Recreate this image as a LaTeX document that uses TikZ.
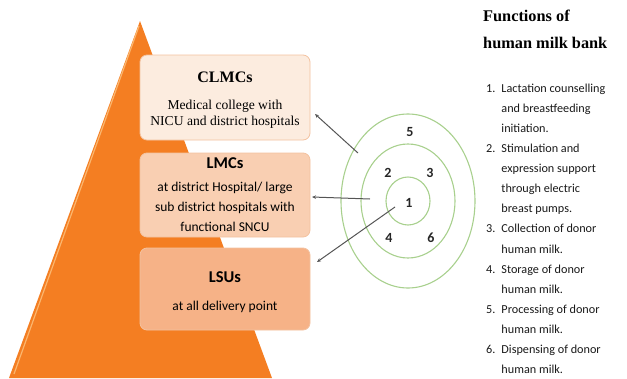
\documentclass[tikz,border=0pt]{standalone}
\usepackage{fontspec}
\setmainfont{Liberation Serif}
\newfontfamily\calfont{Carlito}
\usetikzlibrary{arrows.meta}
\definecolor{tri}{HTML}{F47E22}
\definecolor{trilight}{HTML}{FBB66E}
\definecolor{boxA}{HTML}{FCECDF}
\definecolor{boxB}{HTML}{F9CFB2}
\definecolor{boxC}{HTML}{F6B287}
\definecolor{boxline}{HTML}{F3C2A0}
\definecolor{ring}{HTML}{A8D08D}
\definecolor{arr}{HTML}{555555}
\tikzset{
  tierbox/.style={draw=boxline, line width=0.8pt, rounded corners=7pt},
  ringline/.style={draw=ring, line width=1.1pt},
  num/.style={font=\calfont\bfseries\fontsize{14}{16}\selectfont, text=black!85},
  link/.style={draw=arr, line width=1pt, -{Stealth[length=4pt,width=3.5pt]}},
  sertitle/.style={font=\bfseries\fontsize{16}{18}\selectfont},
  caltitle/.style={font=\calfont\bfseries\fontsize{16.5}{18}\selectfont},
  headtitle/.style={anchor=base west, inner sep=0pt, font=\bfseries\fontsize{16.3}{20}\selectfont},
}
\begin{document}
\begin{tikzpicture}[x=1pt,y=-1pt]
\useasboundingbox (0,0) rectangle (627,378);
% pyramid
\fill[tri] (140,21) -- (272,378) -- (9,378) -- cycle;
\draw[trilight, line width=1.2pt] (139,26) -- (14,374);
% tier boxes
\node[tierbox, fill=boxA, minimum width=170pt, minimum height=85pt] (clmc) at (225,97.5) {};
\node[tierbox, fill=boxB, minimum width=170pt, minimum height=84pt] (lmc) at (225,195) {};
\node[tierbox, fill=boxC, minimum width=170pt, minimum height=82pt] (lsu) at (225,289) {};
% box texts
\node[sertitle] (clmct) at (225,77) {CLMCs};
\node[font=\fontsize{13.6}{16.5}\selectfont, align=center] (clmcb) at (225,114) {Medical college with\\NICU and district hospitals};
\node[caltitle] (lmct) at (225,163) {LMCs};
\node[font=\calfont\fontsize{13.5}{20}\selectfont, align=center] (lmcb) at (225,207) {at district Hospital/ large\\sub district hospitals with\\functional SNCU};
\node[caltitle] (lsut) at (225,277) {LSUs};
\node[font=\calfont\fontsize{13.5}{16}\selectfont] (lsub) at (225,307) {at all delivery point};
% target rings
\coordinate (c) at (408,201);
\draw[ringline] (c) ellipse [x radius=67pt, y radius=87pt];
\draw[ringline] (c) ellipse [x radius=47pt, y radius=57pt];
\draw[ringline] (c) ellipse [x radius=22pt, y radius=24pt];
\node[num] (n5) at (410,132) {5};
\node[num] (n2) at (388,173) {2};
\node[num] (n3) at (430,173) {3};
\node[num] (n1) at (409,203) {1};
\node[num] (n4) at (389,238) {4};
\node[num] (n6) at (431,238) {6};
% connectors
\coordinate (s1) at (358,153);
\coordinate (s2) at (370,199);
\coordinate (s3) at (395,207);
\coordinate (e1) at (315,114);
\coordinate (e2) at (312,197);
\coordinate (e3) at (317,262);
\draw[link] (s1) -- (e1);
\draw[link] (s2) -- (e2);
\draw[link] (s3) -- (e3);
% functions list
\node[headtitle] (ft1) at (483,21) {Functions of};
\node[headtitle] (ft2) at (483,48) {human milk bank};
\node[anchor=north west, inner sep=0pt, font=\calfont\fontsize{12.2}{20.1}\selectfont, text=black!90] (flist) at (486,78) {%
\begin{tabular}{@{}l@{\hspace{6pt}}l@{}}
1. & Lactation counselling\\
   & and breastfeeding\\
   & initiation.\\
2. & Stimulation and\\
   & expression support\\
   & through electric\\
   & breast pumps.\\
3. & Collection of donor\\
   & human milk.\\
4. & Storage of donor\\
   & human milk.\\
5. & Processing of donor\\
   & human milk.\\
6. & Dispensing of donor\\
   & human milk.
\end{tabular}};
\end{tikzpicture}
\end{document}
